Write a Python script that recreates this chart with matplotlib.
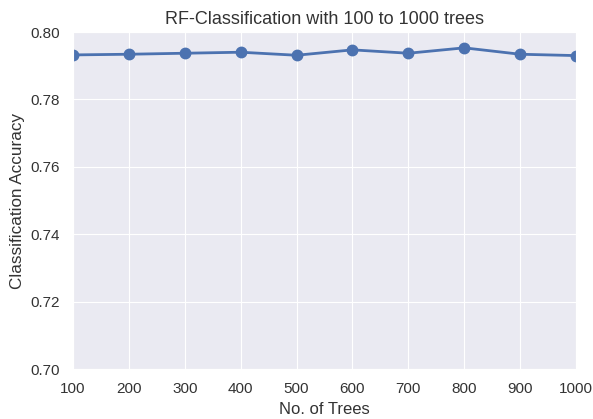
import matplotlib
matplotlib.use("Agg")
import matplotlib.pyplot as plt
import seaborn as sns

n_trees = [100, 200, 300, 400, 500, 600, 700, 800, 900, 1000]
accuracy = [0.7932, 0.7934, 0.7937, 0.7940, 0.7931, 0.7947, 0.7937, 0.7953, 0.7934, 0.7930]

sns.set_style("darkgrid")
plt.rcParams['font.family'] = ['Liberation Sans', 'DejaVu Sans']

fig = plt.figure(figsize=(5.93, 4.19), dpi=100)
ax = fig.add_axes([73 / 593, 1 - 369 / 419, 503 / 593, 337 / 419])
ax.plot(n_trees, accuracy, color="#4C72B0", marker="o", markersize=7.5, linewidth=2)

ax.set_xlim(100, 1000)
ax.set_ylim(0.70, 0.80)
ax.set_xticks(n_trees)
ax.set_yticks([0.70, 0.72, 0.74, 0.76, 0.78, 0.80])
ax.set_yticklabels(["0.70", "0.72", "0.74", "0.76", "0.78", "0.80"])
ax.tick_params(labelsize=11, colors="#333333", pad=6)
ax.set_title("RF-Classification with 100 to 1000 trees", fontsize=13, color="#333333")
ax.set_xlabel("No. of Trees", fontsize=12, color="#333333")
ax.set_ylabel("Classification Accuracy", fontsize=12.3, color="#333333")

fig.savefig("out.png", dpi=100)
